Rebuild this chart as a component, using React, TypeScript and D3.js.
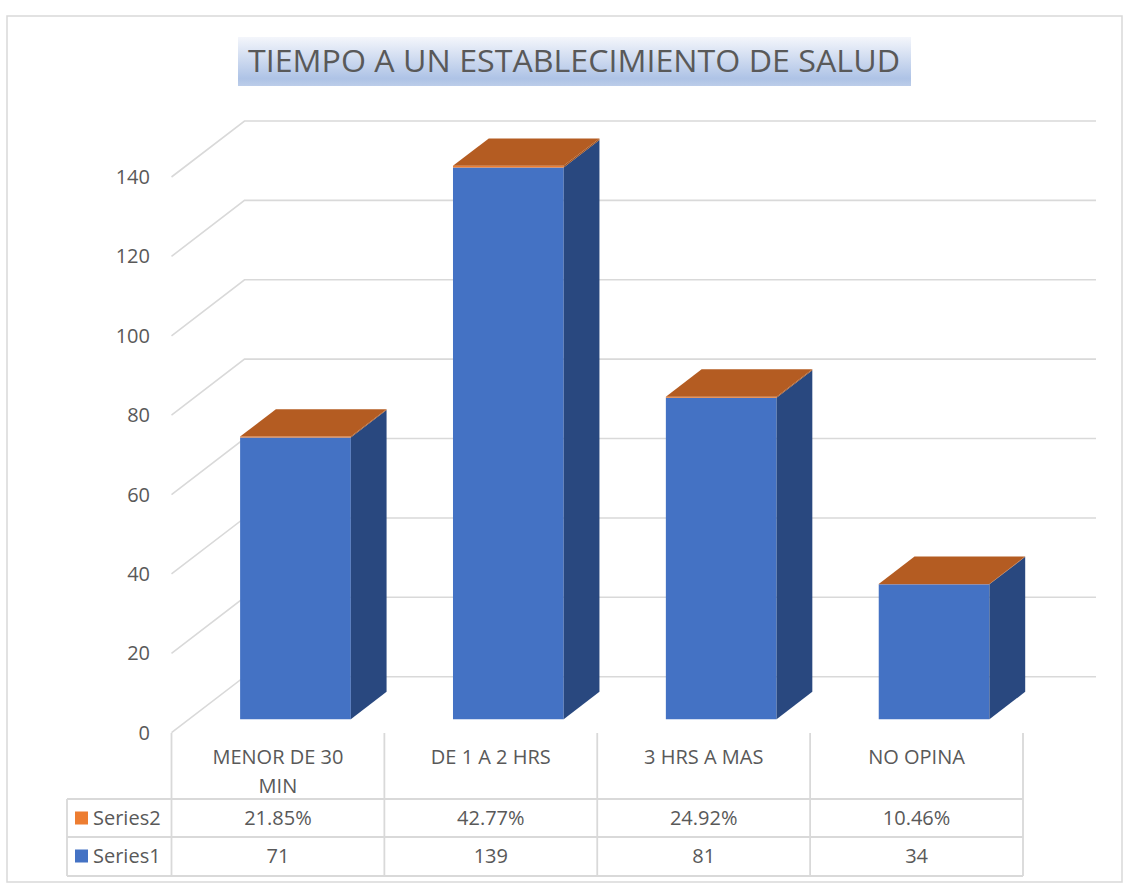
import React from "react";
import * as d3 from "d3";

const title = "TIEMPO A UN ESTABLECIMIENTO DE SALUD";
const categories = ["MENOR DE 30 MIN", "DE 1 A 2 HRS", "3 HRS A MAS", "NO OPINA"];
const series1 = [71, 139, 81, 34];
const series2Pct = [21.85, 42.77, 24.92, 10.46];
const seriesNames = ["Series2", "Series1"];
const yTicks = [0, 20, 40, 60, 80, 100, 120, 140];

const W = 1130;
const H = 887;
const FONT = "'Open Sans', 'Noto Sans', sans-serif";
const TXT = "#595959";
const GRID = "#d9d9d9";
const FS = 20;

// layout
const frontLeft = 171.5;
const frontRight = 1023;
const yZero = 732.7;
const yTop = 177;
const DX = 73;
const DY = 56;
const dFront = 0.24;
const dBack = 0.73;

const tableLeft = 67;
const headerTop = 733;
const rowY = [799, 837, 876];

function wrap(s: string, max: number): string[] {
  const words = s.split(" ");
  const lines: string[] = [];
  let cur = "";
  for (const w of words) {
    const t = cur ? cur + " " + w : w;
    if (t.length > max && cur) {
      lines.push(cur);
      cur = w;
    } else cur = t;
  }
  if (cur) lines.push(cur);
  return lines;
}

export default function App() {
  const y = d3.scaleLinear().domain([0, 140]).range([yZero, yTop]);
  const xCol = d3.scaleBand<string>().domain(categories).range([frontLeft, frontRight]);
  const xBar = d3
    .scaleBand<string>()
    .domain(categories)
    .range([frontLeft, frontRight])
    .paddingInner(0.48)
    .paddingOuter(0.24);

  const P = (x: number, v: number, d: number): [number, number] => [x + DX * d, y(v) - DY * d];
  const pts = (arr: [number, number][]) => arr.map((p) => p.join(",")).join(" ");

  const bars = categories.map((c, i) => {
    const x0 = xBar(c)!;
    const x1 = x0 + xBar.bandwidth();
    const v1 = series1[i];
    const v2 = v1 + series2Pct[i] / 100;
    const front1 = [P(x0, 0, dFront), P(x1, 0, dFront), P(x1, v1, dFront), P(x0, v1, dFront)];
    const front2 = [P(x0, v1, dFront), P(x1, v1, dFront), P(x1, v2, dFront), P(x0, v2, dFront)];
    const side1 = [P(x1, 0, dFront), P(x1, 0, dBack), P(x1, v1, dBack), P(x1, v1, dFront)];
    const side2 = [P(x1, v1, dFront), P(x1, v1, dBack), P(x1, v2, dBack), P(x1, v2, dFront)];
    const top = [P(x0, v2, dFront), P(x1, v2, dFront), P(x1, v2, dBack), P(x0, v2, dBack)];
    return (
      <g key={c}>
        <polygon points={pts(front1)} fill="#4472c4" />
        <polygon points={pts(side1)} fill="#29487f" />
        <polygon points={pts(front2)} fill="#ed7d31" />
        <polygon points={pts(side2)} fill="#a0521f" />
        <polygon points={pts(top)} fill="#b45c22" />
      </g>
    );
  });

  const colEdges = [...categories.map((c) => xCol(c)!), frontRight];

  return (
    <svg
      width={W}
      height={H}
      style={{ position: "absolute", left: 0, top: 0, background: "#fff" }}
      fontFamily={FONT}
    >
      <defs>
        <linearGradient id="titleGrad" x1="0" y1="0" x2="0" y2="1">
          <stop offset="0" stopColor="#f4f6fb" />
          <stop offset="0.85" stopColor="#aec3e6" />
          <stop offset="1" stopColor="#bccde9" />
        </linearGradient>
      </defs>
      <rect x={7} y={16} width={1115} height={866} fill="#fff" stroke={GRID} strokeWidth={1.5} />

      {/* title */}
      <rect x={238} y={37} width={673} height={49} fill="url(#titleGrad)" />
      <text
        x={574}
        y={72}
        textAnchor="middle"
        fontSize={31}
        fill={TXT}
        textLength={652}
        lengthAdjust="spacingAndGlyphs"
      >
        {title}
      </text>

      {/* gridlines: side wall + back wall */}
      {yTicks.map((t) => {
        const a = P(frontLeft, t, 0);
        const b = P(frontLeft, t, 1);
        const c = P(frontRight, t, 1);
        return (
          <polyline
            key={t}
            points={pts([a, b, c])}
            fill="none"
            stroke={GRID}
            strokeWidth={1.6}
          />
        );
      })}

      {/* y tick labels */}
      {yTicks.map((t) => (
        <text
          key={"l" + t}
          x={150}
          y={y(t)}
          dy="0.35em"
          textAnchor="end"
          fontSize={FS}
          fill={TXT}
        >
          {t}
        </text>
      ))}

      {bars}

      {/* data table */}
      <g stroke={GRID} strokeWidth={1.8} fill="none">
        {colEdges.map((x, i) => (
          <line key={"v" + i} x1={x} x2={x} y1={headerTop} y2={rowY[2]} />
        ))}
        <line x1={tableLeft} x2={tableLeft} y1={rowY[0]} y2={rowY[2]} />
        {rowY.map((yy, i) => (
          <line key={"h" + i} x1={tableLeft} x2={frontRight} y1={yy} y2={yy} />
        ))}
      </g>
      {categories.map((c) => {
        const lines = wrap(c, 12);
        const cx = xCol(c)! + xCol.bandwidth() / 2;
        return lines.map((ln, j) => (
          <text
            key={c + j}
            x={cx}
            y={757 + j * 29}
            dy="0.35em"
            textAnchor="middle"
            fontSize={FS}
            fill={TXT}
          >
            {ln}
          </text>
        ));
      })}
      {categories.map((c, i) => {
        const cx = xCol(c)! + xCol.bandwidth() / 2;
        return (
          <g key={"vals" + c}>
            <text x={cx} y={818} dy="0.35em" textAnchor="middle" fontSize={FS} fill={TXT}>
              {series2Pct[i].toFixed(2) + "%"}
            </text>
            <text x={cx} y={856} dy="0.35em" textAnchor="middle" fontSize={FS} fill={TXT}>
              {series1[i]}
            </text>
          </g>
        );
      })}
      {/* legend keys */}
      <rect x={75} y={811.5} width={13} height={13} fill="#ed7d31" />
      <text x={93} y={818} dy="0.35em" fontSize={FS} fill={TXT}>
        {seriesNames[0]}
      </text>
      <rect x={75} y={849.5} width={13} height={13} fill="#4472c4" />
      <text x={93} y={856} dy="0.35em" fontSize={FS} fill={TXT}>
        {seriesNames[1]}
      </text>
    </svg>
  );
}
